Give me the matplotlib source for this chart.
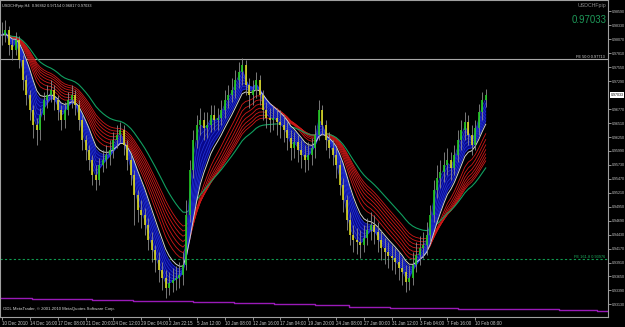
import numpy as np
import pandas as pd
import matplotlib
matplotlib.use("Agg")
import matplotlib.pyplot as plt
from matplotlib import font_manager

# USDCHFpip H4, one point here = two H4 bars
close = [0.9815, 0.9824, 0.9796, 0.9787, 0.9806, 0.9769, 0.9731, 0.9703, 0.9675, 0.9647,
         0.9638, 0.9666, 0.9694, 0.9703, 0.9713, 0.9694, 0.9675, 0.9657, 0.9675, 0.9694,
         0.9703, 0.9685, 0.9657, 0.9619, 0.9601, 0.9582, 0.9554, 0.9545, 0.9573, 0.9582,
         0.9592, 0.9601, 0.9619, 0.9629, 0.9638, 0.9610, 0.9582, 0.9554, 0.9517, 0.9489,
         0.9480, 0.9461, 0.9433, 0.9414, 0.9396, 0.9377, 0.9362, 0.9344, 0.9353, 0.9358,
         0.9362, 0.9368, 0.9386, 0.9480, 0.9564, 0.9619, 0.9647, 0.9657, 0.9642, 0.9647,
         0.9666, 0.9657, 0.9660, 0.9675, 0.9694, 0.9703, 0.9713, 0.9731, 0.9746, 0.9759,
         0.9722, 0.9703, 0.9713, 0.9731, 0.9703, 0.9675, 0.9660, 0.9657, 0.9660, 0.9653,
         0.9647, 0.9638, 0.9623, 0.9604, 0.9616, 0.9601, 0.9592, 0.9582, 0.9592, 0.9604,
         0.9629, 0.9675, 0.9647, 0.9619, 0.9604, 0.9592, 0.9573, 0.9536, 0.9508, 0.9470,
         0.9442, 0.9433, 0.9429, 0.9424, 0.9437, 0.9452, 0.9461, 0.9448, 0.9433, 0.9418,
         0.9411, 0.9403, 0.9399, 0.9392, 0.9381, 0.9373, 0.9355, 0.9362, 0.9386, 0.9405,
         0.9418, 0.9424, 0.9442, 0.9480, 0.9526, 0.9549, 0.9560, 0.9573, 0.9582, 0.9567,
         0.9592, 0.9619, 0.9638, 0.9653, 0.9629, 0.9610, 0.9642, 0.9671, 0.9694, 0.97033]

high = [0.9839, 0.9843, 0.9832, 0.9810, 0.9821, 0.9813, 0.9778, 0.9741, 0.9713, 0.9685,
        0.9661, 0.9679, 0.9709, 0.9722, 0.9731, 0.9722, 0.9703, 0.9685, 0.9690, 0.9709,
        0.9722, 0.9713, 0.9694, 0.9666, 0.9629, 0.9610, 0.9592, 0.9573, 0.9586, 0.9601,
        0.9610, 0.9619, 0.9634, 0.9647, 0.9653, 0.9647, 0.9619, 0.9592, 0.9564, 0.9526,
        0.9508, 0.9493, 0.9474, 0.9448, 0.9424, 0.9411, 0.9392, 0.9377, 0.9373, 0.9381,
        0.9385, 0.9392, 0.9411, 0.9508, 0.9582, 0.9638, 0.9666, 0.9679, 0.9672, 0.9672,
        0.9685, 0.9685, 0.9679, 0.9694, 0.9713, 0.9722, 0.9735, 0.9750, 0.9765, 0.9772,
        0.9769, 0.9735, 0.9731, 0.9746, 0.9741, 0.9713, 0.9690, 0.9679, 0.9683, 0.9679,
        0.9675, 0.9666, 0.9653, 0.9638, 0.9634, 0.9629, 0.9619, 0.9610, 0.9616, 0.9623,
        0.9647, 0.9694, 0.9685, 0.9657, 0.9634, 0.9619, 0.9604, 0.9582, 0.9549, 0.9517,
        0.9485, 0.9461, 0.9455, 0.9452, 0.9461, 0.9474, 0.9485, 0.9480, 0.9467, 0.9452,
        0.9437, 0.9429, 0.9424, 0.9418, 0.9411, 0.9399, 0.9386, 0.9386, 0.9411, 0.9429,
        0.9440, 0.9448, 0.9467, 0.9498, 0.9545, 0.9573, 0.9582, 0.9597, 0.9604, 0.9597,
        0.9610, 0.9638, 0.9657, 0.9672, 0.9666, 0.9647, 0.9657, 0.9687, 0.9709, 0.97154]

low = [0.9796, 0.9802, 0.9778, 0.9769, 0.9778, 0.9754, 0.9713, 0.9685, 0.9657, 0.9623,
       0.9610, 0.9619, 0.9657, 0.9679, 0.9690, 0.9675, 0.9657, 0.9638, 0.9642, 0.9666,
       0.9679, 0.9666, 0.9638, 0.9601, 0.9582, 0.9564, 0.9536, 0.9526, 0.9536, 0.9560,
       0.9567, 0.9573, 0.9586, 0.9604, 0.9616, 0.9592, 0.9564, 0.9536, 0.9461, 0.9467,
       0.9455, 0.9442, 0.9414, 0.9392, 0.9373, 0.9355, 0.9340, 0.9325, 0.9330, 0.9336,
       0.9340, 0.9344, 0.9349, 0.9377, 0.9467, 0.9549, 0.9604, 0.9629, 0.9619, 0.9623,
       0.9634, 0.9638, 0.9638, 0.9647, 0.9661, 0.9679, 0.9690, 0.9698, 0.9716, 0.9722,
       0.9703, 0.9679, 0.9685, 0.9698, 0.9685, 0.9657, 0.9642, 0.9634, 0.9638, 0.9629,
       0.9623, 0.9616, 0.9601, 0.9582, 0.9586, 0.9579, 0.9567, 0.9560, 0.9564, 0.9573,
       0.9586, 0.9619, 0.9629, 0.9601, 0.9586, 0.9573, 0.9549, 0.9517, 0.9485, 0.9452,
       0.9424, 0.9411, 0.9407, 0.9399, 0.9411, 0.9424, 0.9433, 0.9426, 0.9411, 0.9396,
       0.9388, 0.9381, 0.9377, 0.9370, 0.9358, 0.9349, 0.9336, 0.9340, 0.9349, 0.9373,
       0.9386, 0.9399, 0.9405, 0.9429, 0.9467, 0.9511, 0.9530, 0.9541, 0.9554, 0.9545,
       0.9554, 0.9579, 0.9601, 0.9619, 0.9610, 0.9592, 0.9601, 0.9629, 0.9657, 0.96817]

# stepped purple line near the bottom: (start index, value)
step_start = [-1, 8.6, 25.9, 37.6, 54.9, 66.7, 78.2, 90, 99.7, 111.5, 131, 146, 160, 171, 175]
step_value = [0.9324, 0.9323, 0.9321, 0.9319, 0.9317, 0.9315, 0.9314, 0.9312, 0.9309,
              0.9307, 0.9305, 0.9304, 0.9302, 0.9300]

time_labels = ["10 Dec 2010", "14 Dec 16:00", "17 Dec 08:00", "21 Dec 20:00", "24 Dec 12:00",
               "29 Dec 04:00", "2 Jan 22:15", "5 Jan 12:00", "10 Jan 08:00", "12 Jan 16:00",
               "17 Jan 04:00", "19 Jan 20:00", "24 Jan 08:00", "27 Jan 00:00", "31 Jan 12:00",
               "3 Feb 04:00", "7 Feb 16:00", "10 Feb 08:00"]

blue_periods = [2, 3, 4, 5, 6, 7, 8]
white_period = 9
red_periods = [12, 14, 16, 18, 20, 22, 24]
green_period = 30

fe50 = 0.97713
fe161 = 0.93976
last_price = 0.97033
ohlc_text = "USDCHFpip,H4  0.96862 0.97154 0.96817 0.97033"

# small chart text: narrow font if there is one
names = {f.name for f in font_manager.fontManager.ttflist}
if "Liberation Sans Narrow" in names:
    fam, k = "Liberation Sans Narrow", 1.0
else:
    fam, k = "Liberation Sans", 0.82
plt.rcParams["font.family"] = [fam, "DejaVu Sans"]

cl = pd.Series(close)
idx = np.arange(len(close))
opn = np.r_[close[0], close[:-1]]
c = np.array(close)


def ema(n):
    return cl.ewm(span=n, adjust=False).mean().values


fig = plt.figure(figsize=(6.25, 3.27), dpi=100, facecolor="black")
ax = fig.add_axes([0, 10 / 327, 608 / 625, 317 / 327], facecolor="black")

# slow group
for n in red_periods:
    ax.plot(idx, ema(n), color="#d01818", lw=0.6, zorder=3)
ax.plot(idx, ema(green_period), color="#11a060", lw=0.8, zorder=3)

# fast group
blues = np.array([ema(n) for n in blue_periods])
ax.fill_between(idx, blues.min(axis=0), blues.max(axis=0), color="#08088c", lw=0, zorder=4)
for b in blues:
    ax.plot(idx, b, color="#2436d8", lw=0.5, zorder=5)
ax.plot(idx, ema(white_period), color="#d0d0d0", lw=0.7, zorder=6)

# bars on top
up = c >= opn
ax.vlines(idx, low, high, color="#8c8c8c", lw=0.6, zorder=7)
ax.vlines(idx[up], opn[up], c[up], color="#22cc22", lw=1.2, zorder=8)
ax.vlines(idx[~up], opn[~up], c[~up], color="#d8d820", lw=1.2, zorder=8)

# horizontal levels
ax.axhline(fe50, color="#a8a8a8", lw=0.8, zorder=2)
ax.axhline(fe161, color="#109a50", lw=0.8, ls=(0, (2, 2)), zorder=2)
ax.step(step_start, step_value + [step_value[-1]], where="post", color="#9a1ab8", lw=1.0, zorder=2)

ax.set_xlim((0 - 2) / 3.48, (608 - 2) / 3.48)
ax.set_ylim(0.92895, 0.98804)

# price scale; the tick under the current price box is left out
yt = [v for v in np.arange(0.98590, 0.9290, -0.0026) if abs(v - last_price) > 0.0008]
ax.yaxis.tick_right()
ax.set_yticks(yt)
ax.set_yticklabels(["%.5f" % v for v in yt])
ax.set_xticks(np.arange(len(time_labels)) * 8)
ax.set_xticklabels(time_labels, ha="left")
ax.tick_params(colors="#c8c8c8", length=2, width=0.5, pad=1)
ax.tick_params(axis="y", labelsize=3.2 * k, pad=0.8)
ax.tick_params(axis="x", labelsize=4.0 * k)
for s in ax.spines.values():
    s.set_color("#a0a0a0")
    s.set_linewidth(0.8)

ax.text(0.004, 0.982, ohlc_text, va="center", fontsize=3.4 * k, color="#d8d8d8",
        transform=ax.transAxes)
ax.text(0.997, 0.982, "USDCHFpip", ha="right", va="center", fontsize=4.6 * k, color="#8c8c8c",
        transform=ax.transAxes)
ax.text(0.997, 0.937, "%.5f" % last_price, ha="right", va="center", fontsize=8.5 * k,
        color="#1f9a5a", transform=ax.transAxes)
ax.text(0.005, 0.025, "ODL MetaTrader, \u00a9 2001-2010 MetaQuotes Software Corp.", va="center",
        fontsize=3.75 * k, color="#d8d8d8", transform=ax.transAxes)
ax.text(0.995, fe50, "FE 50.0 %.5f" % fe50, ha="right", va="bottom", fontsize=3.4 * k,
        color="#d8d8d8", transform=ax.get_yaxis_transform())
ax.text(0.995, fe161, "FE 161.8 %.5f" % fe161, ha="right", va="bottom", fontsize=3.4 * k,
        color="#20b060", transform=ax.get_yaxis_transform())
ax.text(1.004, last_price, "%.5f" % last_price, ha="left", va="center", fontsize=3.2 * k,
        color="black", transform=ax.get_yaxis_transform(), clip_on=False,
        bbox=dict(facecolor="white", edgecolor="none", pad=0.4))

fig.savefig("out.png", dpi=100, facecolor="black")
